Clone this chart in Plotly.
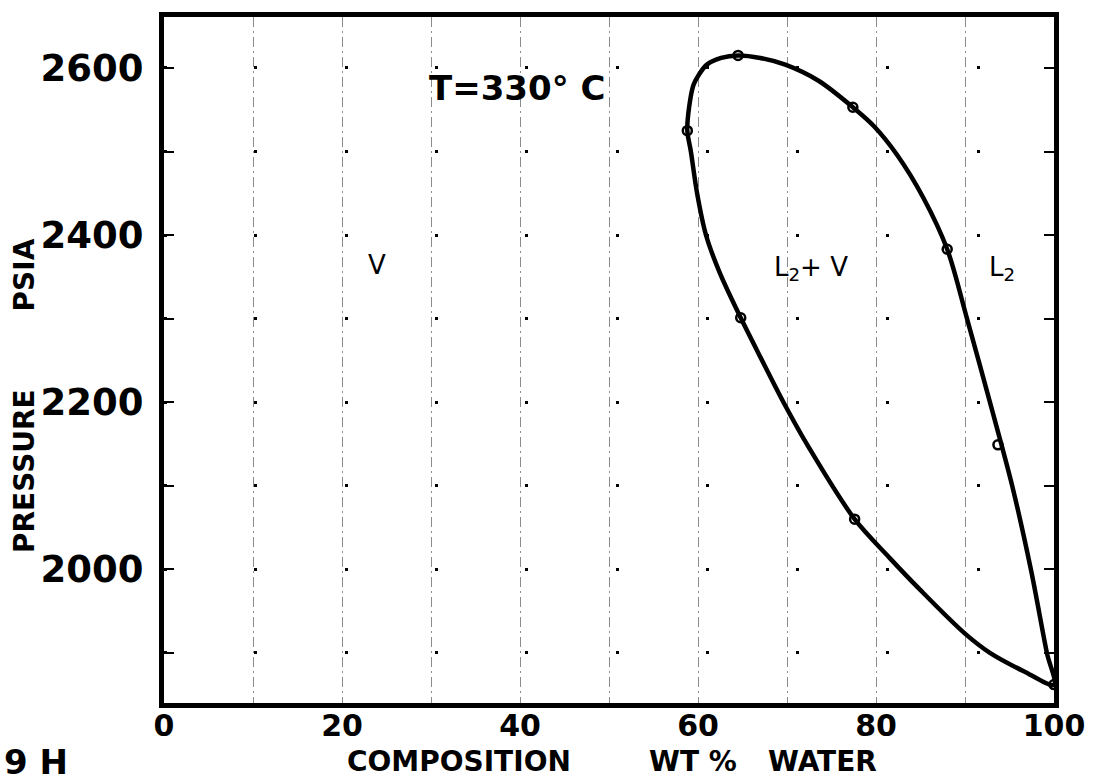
import plotly.graph_objects as go

# Phase envelope, traced dew branch then bubble branch
curve_x = [100, 96.6, 92.8, 90, 85, 81.5, 77.6, 72.5, 69.6, 67.2, 64.8, 62.4,
           60.9, 59.9, 59.2, 58.8, 59.0, 59.5, 60.1, 61.0, 62.6, 64.5,
           67.0, 69.8, 73.5, 77.4, 79.8, 82.3, 85.3, 88.0, 90.2, 92.8,
           95.3, 97.4, 99.2, 100]
curve_y = [1862, 1878, 1900, 1923, 1975, 2014, 2060, 2145, 2200, 2250, 2301, 2356,
           2400, 2450, 2500, 2525, 2553, 2580, 2592, 2604, 2612, 2615,
           2612, 2604, 2585, 2553, 2530, 2497, 2445, 2383, 2301, 2200,
           2100, 2000, 1900, 1862]

# Measured points (open circles)
pts_x = [58.8, 64.5, 77.4, 88.0, 64.8, 77.6, 93.7, 100]
pts_y = [2525, 2615, 2553, 2383, 2301, 2060, 2149, 1862]

x_grid = list(range(0, 101, 10))
x_labels = ["0", "", "20", "", "40", "", "60", "", "80", "", "100"]
y_grid = list(range(1900, 2601, 100))
y_labels = ["", "2000", "", "2200", "", "2400", "", "2600"]

fig = go.Figure()
fig.add_trace(go.Scatter(x=curve_x, y=curve_y, mode="lines",
                         line=dict(color="black", width=4.5, shape="spline", smoothing=0.9),
                         hoverinfo="skip", showlegend=False))
fig.add_trace(go.Scatter(x=pts_x, y=pts_y, mode="markers",
                         marker=dict(symbol="circle-open", size=9, color="black",
                                     line=dict(width=2.5, color="black")),
                         showlegend=False))

font_main = "DejaVu Sans"
fig.update_layout(
    width=1097, height=783,
    margin=dict(l=164, r=31, t=12, b=80),
    paper_bgcolor="white", plot_bgcolor="white",
    font=dict(family=font_main, color="black"),
    xaxis=dict(range=[0, 100], tickvals=x_grid, ticktext=x_labels,
               showgrid=True, gridcolor="#8a8a8a", gridwidth=1, griddash="10px,4px,2px,4px",
               showline=True, linewidth=5, linecolor="black", mirror=True,
               ticks="", tickfont=dict(size=30, family=font_main, weight="bold"), zeroline=False,
               ticklabelstandoff=-8, ticklabeloverflow="allow"),
    yaxis=dict(range=[1840, 2661], tickvals=y_grid, ticktext=y_labels,
               showgrid=True, gridcolor="black", gridwidth=2.5, griddash="3px,87.3px",
               showline=True, linewidth=5, linecolor="black", mirror="allticks",
               ticks="inside", ticklen=10, tickwidth=2, tickcolor="black",
               tickfont=dict(size=37, family=font_main, weight="bold"), zeroline=False,
               ticklabelstandoff=8),
)

annos = [
    dict(text="<b>T=330° C</b>", x=39.7, y=2576, xref="x", yref="y", font=dict(size=34)),
    dict(text="V", x=23.9, y=2364, xref="x", yref="y", font=dict(size=26)),
    dict(text="L<sub>2</sub>+ V", x=72.7, y=2360, xref="x", yref="y", font=dict(size=26)),
    dict(text="L<sub>2</sub>", x=94.2, y=2360, xref="x", yref="y", font=dict(size=26)),
    dict(text="<b>PRESSURE</b>", x=-0.157, y=2118, xref="paper", yref="y",
         textangle=-90, font=dict(size=28)),
    dict(text="<b>PSIA</b>", x=-0.157, y=2352, xref="paper", yref="y",
         textangle=-90, font=dict(size=28)),
    dict(text="<b>COMPOSITION</b>", x=33.2, y=-0.086, xref="x", yref="paper", font=dict(size=28)),
    dict(text="<b>WT %</b>", x=59.4, y=-0.086, xref="x", yref="paper", font=dict(size=28)),
    dict(text="<b>WATER</b>", x=74.0, y=-0.086, xref="x", yref="paper", font=dict(size=28)),
    dict(text="<b>9 H</b>", x=-0.182, y=-0.086, xref="paper", yref="paper",
         xanchor="left", font=dict(size=34)),
]
for a in annos:
    a.setdefault("showarrow", False)
    a.setdefault("xanchor", "center")
    a.setdefault("yanchor", "middle")
    a["font"]["family"] = font_main
    a["font"]["color"] = "black"
    fig.add_annotation(**a)

fig.write_html("out.html")
